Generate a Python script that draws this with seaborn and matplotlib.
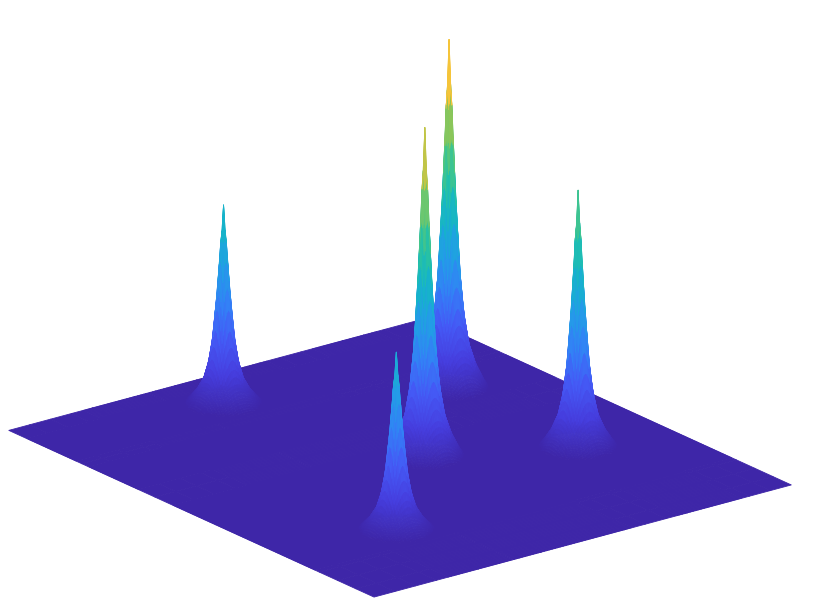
import numpy as np
import seaborn as sns
import matplotlib
matplotlib.use("Agg")
import matplotlib.pyplot as plt

# peak centres and heights (plane is 60 x 52.6, 1 unit = 10 px)
peak_x = [7.0, 17.2, 31.2, 46.2, 38.4]
peak_y = [21.7, 42.3, 28.5, 13.4, 42.3]
peak_h = [21.2, 37.2, 35.1, 19.0, 27.4]

# shape of one peak, radius vs fraction of its height
profile_r = [0.0, 0.1, 0.3, 0.65, 1.1, 1.5, 2.0, 2.7, 3.5, 4.0]
profile_z = [1.0, 0.94, 0.80, 0.56, 0.33, 0.21, 0.125, 0.065, 0.02, 0.0]

# colours seen on the spikes from base to tip, evenly spaced, close to parula
spike_colors = [(0.2422, 0.1504, 0.6603), (0.2750, 0.2450, 0.8750), (0.2680, 0.3540, 0.9650),
                (0.2000, 0.5050, 0.9650), (0.1370, 0.6170, 0.9070), (0.0850, 0.7000, 0.8000),
                (0.1300, 0.7550, 0.6700), (0.3300, 0.7820, 0.4900), (0.6000, 0.7750, 0.3200),
                (0.9980, 0.7700, 0.2150), (0.9760, 0.9830, 0.0540)]

x_size, y_size = 60, 52.6

sns.set_theme(style="white")
cmap = sns.blend_palette(spike_colors, n_colors=256, as_cmap=True)

# fine mesh lines only round the peaks, the rest of the plane is flat
offsets = np.arange(-20, 21) * 0.2
xs = np.unique(np.round(np.concatenate([np.linspace(0, x_size, 21)] + [p + offsets for p in peak_x]), 4))
ys = np.unique(np.round(np.concatenate([np.linspace(0, y_size, 21)] + [p + offsets for p in peak_y]), 4))
X, Y = np.meshgrid(xs, ys)
Z = np.zeros_like(X)
for px, py, h in zip(peak_x, peak_y, peak_h):
    r = np.hypot(X - px, Y - py)
    Z += h * np.interp(r, profile_r, profile_z)

fig = plt.figure(figsize=(8.13, 6.13), dpi=100)
side = 854.6
ax = fig.add_axes([-38.8 / 813, -109.3 / 613, side / 813, side / 613], projection="3d", proj_type="ortho")
surf = ax.plot_surface(X, Y, Z, rstride=1, cstride=1, cmap=cmap, vmin=0, vmax=max(peak_h),
                       linewidth=0.6, antialiased=True, shade=False)
surf.set_edgecolor("face")
ax.set_xlim(0, x_size)
ax.set_ylim(0, y_size)
ax.set_zlim(0, max(peak_h))
ax.set_box_aspect((x_size, y_size, max(peak_h)))
ax.view_init(elev=20.5, azim=-37.5)
ax.set_axis_off()

fig.savefig("out.png", dpi=100, facecolor="white")
